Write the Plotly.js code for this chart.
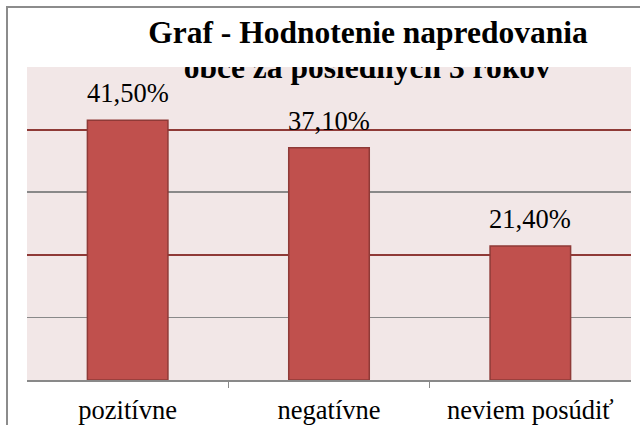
<!DOCTYPE html>
<html>
<head>
<meta charset="utf-8">
<script src="https://cdn.plot.ly/plotly-3.0.1.min.js"></script>
<style>
  html, body { margin: 0; padding: 0; background: #ffffff; }
  #chart { width: 640px; height: 425px; }
</style>
</head>
<body>
<div id="chart"></div>
<script>
// ---- data ----
const categories = ['pozitívne', 'negatívne', 'neviem posúdiť'];
const values = [41.5, 37.1, 21.4];
const valueLabels = ['41,50%', '37,10%', '21,40%'];
const titleLine1 = 'Graf - Hodnotenie napredovania';
const titleLine2 = 'obce za posledných 3 rokov';
const gridValues = [10, 20, 30, 40, 50];
const highlightGrid = [20, 40];

// ---- styling ----
const serif = 'Liberation Serif';
const barFill = '#C0504D';
const barEdge = '#8F3A37';
const gridGray = '#898989';
const plotBg = '#F2E7E7';

const tickBoundaries = categories.slice(1).map((c, i) => i + 0.5);
const grayGrid = gridValues.filter(v => highlightGrid.indexOf(v) < 0);

const barTrace = {
  type: 'bar',
  x: categories,
  y: values,
  marker: { color: barFill, line: { color: barEdge, width: 1.5 } },
  hoverinfo: 'skip',
  showlegend: false
};

// second line of the title, clipped by the plot area like in the original
const titleClip = {
  type: 'scatter',
  mode: 'text',
  xaxis: 'x2',
  yaxis: 'y2',
  x: [1.19],
  y: [49.5],
  text: ['<b>' + titleLine2 + '</b>'],
  textposition: 'middle center',
  textfont: { family: serif, size: 31.5, color: '#000000' },
  cliponaxis: true,
  hoverinfo: 'skip',
  showlegend: false
};

const annotations = categories.map((c, i) => ({
  xref: 'x', yref: 'y',
  x: c, y: values[i],
  text: valueLabels[i],
  showarrow: false,
  yanchor: 'middle',
  yshift: 27,
  font: { family: serif, size: 26.5, color: '#000000' }
}));

// outer chart frame
const shapes = [{
  type: 'rect', xref: 'paper', yref: 'paper',
  x0: -0.0331, x1: 1.2, y0: -0.3, y1: 1.1917,
  line: { color: '#8C8C8C', width: 2 },
  fillcolor: 'rgba(0,0,0,0)',
  layer: 'above'
}];

const layout = {
  width: 640,
  height: 425,
  margin: { l: 27, r: 9, t: 67, b: 45, pad: 0 },
  paper_bgcolor: '#ffffff',
  plot_bgcolor: plotBg,
  bargap: 0.6,
  font: { family: serif, color: '#000000' },
  title: {
    text: '<b>' + titleLine1 + '</b>',
    font: { family: serif, size: 31.5, color: '#000000' },
    x: 0.575, xanchor: 'center',
    y: 0.925, yanchor: 'middle'
  },
  xaxis: {
    type: 'category',
    showgrid: false,
    zeroline: false,
    showline: true,
    linecolor: gridGray,
    linewidth: 2,
    ticks: '',
    tickfont: { family: serif, size: 26.5, color: '#000000' },
    ticklabelstandoff: 5,
    fixedrange: true
  },
  xaxis2: {
    overlaying: 'x',
    anchor: 'y',
    range: [-0.5, 2.5],
    showgrid: false,
    zeroline: false,
    showline: false,
    tickmode: 'array',
    tickvals: tickBoundaries,
    ticks: 'outside',
    ticklen: 7,
    tickwidth: 1.5,
    tickcolor: gridGray,
    showticklabels: false,
    side: 'bottom',
    fixedrange: true
  },
  yaxis: {
    range: [0, 50],
    tickmode: 'array',
    tickvals: grayGrid,
    showgrid: true,
    gridcolor: gridGray,
    gridwidth: 1.5,
    zeroline: false,
    showline: false,
    showticklabels: false,
    ticks: '',
    fixedrange: true
  },
  yaxis2: {
    overlaying: 'y',
    anchor: 'x',
    range: [0, 50],
    tickmode: 'array',
    tickvals: highlightGrid,
    showgrid: true,
    gridcolor: barEdge,
    gridwidth: 2,
    zeroline: false,
    showline: false,
    showticklabels: false,
    ticks: '',
    fixedrange: true
  },
  annotations: annotations,
  shapes: shapes,
  showlegend: false
};

Plotly.newPlot('chart', [barTrace, titleClip], layout, { displayModeBar: false, staticPlot: true });
</script>
</body>
</html>
